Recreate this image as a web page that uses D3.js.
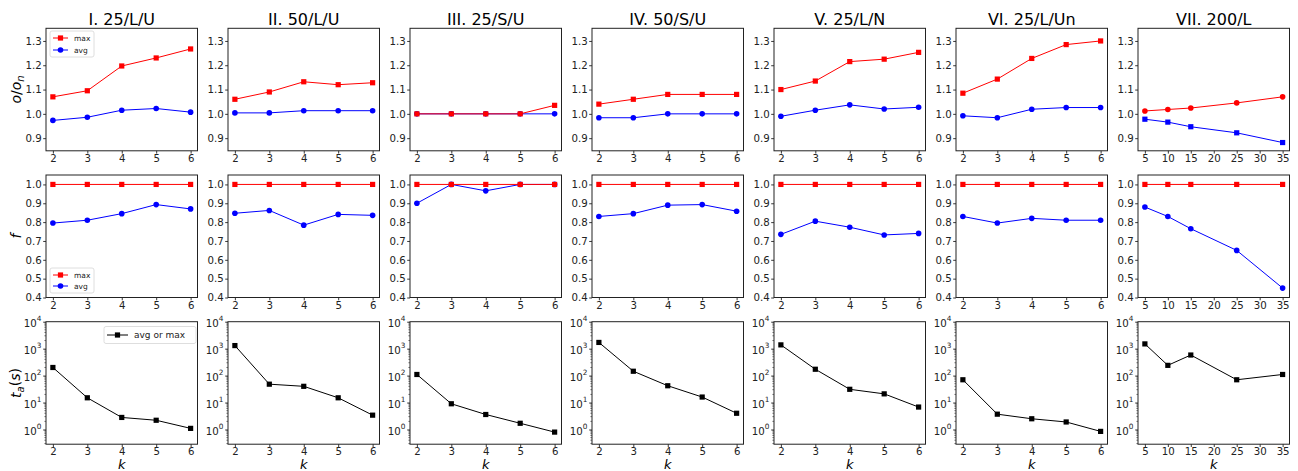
<!DOCTYPE html>
<html><head><meta charset="utf-8">
<script src="https://cdn.jsdelivr.net/npm/d3@7"></script>
<style>body{margin:0;background:#fff} svg{font-family:"DejaVu Sans",sans-serif}</style>
</head><body><svg id="c" width="1298" height="471"></svg>
<script>
const titles = ["I. 25/L/U","II. 50/L/U","III. 25/S/U","IV. 50/S/U","V. 25/L/N","VI. 25/L/Un","VII. 200/L"];
const kSmall = [2,3,4,5,6];
const kLarge = [5,10,15,25,35];
const ratioMax = [
  [1.07,1.095,1.197,1.23,1.267],
  [1.06,1.09,1.132,1.12,1.128],
  [1.0,1.0,1.0,1.0,1.035],
  [1.04,1.06,1.08,1.08,1.08],
  [1.1,1.135,1.215,1.225,1.253],
  [1.085,1.143,1.228,1.285,1.30],
  [1.012,1.018,1.024,1.045,1.07]
];
const ratioAvg = [
  [0.973,0.986,1.015,1.022,1.007],
  [1.004,1.004,1.013,1.013,1.013],
  [1.0,1.0,1.0,1.0,1.0],
  [0.984,0.984,1.0,1.0,1.0],
  [0.99,1.015,1.037,1.02,1.027],
  [0.992,0.984,1.019,1.026,1.026],
  [0.978,0.966,0.947,0.922,0.882]
];
const fMax = [
  [1,1,1,1,1],[1,1,1,1,1],[1,1,1,1,1],[1,1,1,1,1],[1,1,1,1,1],[1,1,1,1,1],[1,1,1,1,1]
];
const fAvg = [
  [0.795,0.81,0.845,0.893,0.87],
  [0.847,0.862,0.784,0.841,0.836],
  [0.9,1.0,0.966,1.0,1.0],
  [0.83,0.845,0.89,0.893,0.858],
  [0.735,0.805,0.773,0.732,0.74],
  [0.83,0.795,0.82,0.81,0.81],
  [0.88,0.83,0.765,0.65,0.45]
];
const timeA = [
  [200,15,2.8,2.2,1.1],
  [1300,48,40,15,3.4],
  [110,9,3.6,1.7,0.8],
  [1700,145,42,16,4],
  [1380,172,31,21,6.8],
  [70,3.7,2.5,1.9,0.85],
  [1500,240,580,70,110]
];
const ratioTicks = [0.9,1.0,1.1,1.2,1.3];
const fTicks = [0.4,0.5,0.6,0.7,0.8,0.9,1.0];
const timeTicks = [1,10,100,1000,10000];
const largeTicks = [5,10,15,20,25,30,35];

const svg = d3.select("#c");
const W = 151.5, H = 122.5;
const rowTop = [28.3, 175, 321.7];
const FS = 10.2;
const RED = "#ff0000", BLUE = "#0000ff";

function drawMarkers(g, pts, shape, color) {
  if (shape === "square") {
    g.selectAll(null).data(pts).join("rect")
      .attr("x", d => d[0]-2.6).attr("y", d => d[1]-2.6)
      .attr("width", 5.2).attr("height", 5.2).attr("fill", color);
  } else {
    g.selectAll(null).data(pts).join("circle")
      .attr("cx", d => d[0]).attr("cy", d => d[1]).attr("r", 2.8).attr("fill", color);
  }
}
function series(g, xs, ys, ks, vals, color, shape) {
  const pts = ks.map((k,i) => [xs(k), ys(vals[i])]);
  g.append("path").attr("d", d3.line()(pts)).attr("fill","none")
    .attr("stroke", color).attr("stroke-width", 1);
  drawMarkers(g, pts, shape, color);
}
function styleAxis(a) {
  a.select(".domain").remove();
  a.selectAll(".tick line").attr("stroke", "#222").attr("stroke-width", 0.9);
  a.selectAll(".tick text").attr("fill", "#222").attr("font-size", FS)
    .attr("font-family", "DejaVu Sans");
}
function legend(g, x, y, w, h, items, fs) {
  g.append("rect").attr("x", x).attr("y", y).attr("width", w).attr("height", h)
    .attr("rx", 2).attr("fill", "#fff").attr("fill-opacity", 0.85)
    .attr("stroke", "#d6d6d6").attr("stroke-width", 0.8);
  items.forEach((it, i) => {
    const cy = items.length === 1 ? y + h / 2 : y + 7 + i * (h - 14) / (items.length - 1);
    g.append("line").attr("x1", x + 3).attr("x2", x + 3 + it.len).attr("y1", cy).attr("y2", cy)
      .attr("stroke", it.color).attr("stroke-width", 1);
    drawMarkers(g, [[x + 3 + it.len/2, cy]], it.shape, it.color);
    g.append("text").attr("x", x + 3 + it.len + 6).attr("y", cy).attr("dy", "0.35em")
      .attr("font-size", fs).attr("fill", "#222").text(it.label);
  });
}

for (let c = 0; c < 7; c++) {
  const x0 = 46 + c * 182;
  const ks = c === 6 ? kLarge : kSmall;
  const xs = d3.scaleLinear().domain(c === 6 ? [3.5, 36.5] : [1.8, 6.2]).range([x0, x0 + W]);
  const xt = c === 6 ? largeTicks : kSmall;

  for (let r = 0; r < 3; r++) {
    const y0 = rowTop[r];
    const g = svg.append("g");
    let ys;
    if (r === 0) ys = d3.scaleLinear().domain([0.848, 1.352]).range([y0 + H, y0]);
    else if (r === 1) ys = d3.scaleLinear().domain([0.4, 1.05]).range([y0 + H, y0]);
    else ys = d3.scaleLog().domain([Math.pow(10, -0.546), 1e4]).range([y0 + H, y0]);

    const ax = g.append("g").attr("transform", `translate(0,${y0 + H})`)
      .call(d3.axisBottom(xs).tickValues(xt).tickFormat(d3.format("d")).tickSize(2.8).tickPadding(1.2));
    styleAxis(ax);
    if (r < 2) {
      const ay = g.append("g").attr("transform", `translate(${x0},0)`)
        .call(d3.axisLeft(ys).tickValues(r === 0 ? ratioTicks : fTicks).tickFormat(d3.format(".1f")).tickSize(2.8).tickPadding(1.5));
      styleAxis(ay);
    } else {
      const ay = g.append("g").attr("transform", `translate(${x0},0)`)
        .call(d3.axisLeft(ys).tickValues(timeTicks).tickFormat(() => "").tickSize(2.8).tickPadding(1.5));
      styleAxis(ay);
      ay.selectAll(".tick").each(function(d) {
        const t = d3.select(this).append("text").attr("fill", "#222").attr("x", -4.5).attr("dy", "0.5em")
          .attr("text-anchor", "end").attr("font-size", FS).attr("font-family", "DejaVu Sans");
        t.append("tspan").text("10");
        t.append("tspan").attr("font-size", FS * 0.72).attr("dy", "-0.8em").text(Math.round(Math.log10(d)));
      });
      const minors = [];
      for (let e = -1; e < 4; e++) for (let m = 2; m <= 9; m++) {
        const v = m * Math.pow(10, e);
        if (v >= ys.domain()[0] && v <= 1e4) minors.push(v);
      }
      g.selectAll(null).data(minors).join("line")
        .attr("x1", x0 - 1.6).attr("x2", x0).attr("y1", d => ys(d)).attr("y2", d => ys(d))
        .attr("stroke", "#222").attr("stroke-width", 0.6);
    }

    const clipId = `clip${c}_${r}`;
    g.append("clipPath").attr("id", clipId).append("rect")
      .attr("x", x0 - 4).attr("y", y0 - 4).attr("width", W + 8).attr("height", H + 8);
    const pg = g.append("g").attr("clip-path", `url(#${clipId})`);

    if (r === 0) {
      series(pg, xs, ys, ks, ratioAvg[c], BLUE, c === 6 ? "square" : "circle");
      series(pg, xs, ys, ks, ratioMax[c], RED, c === 6 ? "circle" : "square");
    } else if (r === 1) {
      series(pg, xs, ys, ks, fAvg[c], BLUE, "circle");
      series(pg, xs, ys, ks, fMax[c], RED, "square");
    } else {
      series(pg, xs, ys, ks, timeA[c], "#000", "square");
    }

    g.append("rect").attr("x", x0).attr("y", y0).attr("width", W).attr("height", H)
      .attr("fill", "none").attr("stroke", "#222").attr("stroke-width", 1);

    if (c === 0 && r === 0) {
      legend(g, 50, 31, 44, 26, [
        {label: "max", color: RED, shape: "square", len: 15},
        {label: "avg", color: BLUE, shape: "circle", len: 15}], 7.5);
    }
    if (c === 0 && r === 1) {
      legend(g, 50, 268, 44, 25, [
        {label: "max", color: RED, shape: "square", len: 15},
        {label: "avg", color: BLUE, shape: "circle", len: 15}], 7.5);
    }
    if (c === 0 && r === 2) {
      legend(g, 104, 326.5, 92, 17, [
        {label: "avg or max", color: "#000", shape: "square", len: 21}], 9);
    }
  }

  svg.append("text").attr("x", x0 + W / 2).attr("y", 24.5).attr("text-anchor", "middle")
    .attr("font-size", 16).attr("fill", "#000").text(titles[c]);
  svg.append("text").attr("x", x0 + W / 2).attr("y", 468.5).attr("text-anchor", "middle")
    .attr("font-size", 13).attr("font-style", "italic").attr("fill", "#000").text("k");
}

function ylab(y, build) {
  const t = svg.append("text").attr("transform", `translate(21,${y}) rotate(-90)`)
    .attr("text-anchor", "middle").attr("font-size", 14).attr("fill", "#000");
  build(t);
}
ylab(89.5, t => {
  t.append("tspan").attr("font-style", "italic").text("o");
  t.append("tspan").text("/");
  t.append("tspan").attr("font-style", "italic").text("o");
  t.append("tspan").attr("font-style", "italic").attr("font-size", 10).attr("dy", "0.25em").text("n");
});
ylab(236, t => { t.append("tspan").attr("font-style", "italic").text("f"); });
ylab(383, t => {
  t.append("tspan").attr("font-style", "italic").text("t");
  t.append("tspan").attr("font-style", "italic").attr("font-size", 10).attr("dy", "0.25em").text("a");
  t.append("tspan").attr("dy", "-0.25em").text("(");
  t.append("tspan").attr("font-style", "italic").text("s");
  t.append("tspan").text(")");
});
</script></body></html>
